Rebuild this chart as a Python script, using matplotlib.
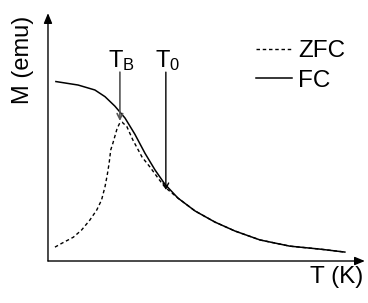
import matplotlib
matplotlib.use('Agg')
import matplotlib.pyplot as plt

plt.rcParams['font.family'] = ['Liberation Sans', 'DejaVu Sans']
plt.rcParams['mathtext.fontset'] = 'custom'
plt.rcParams['mathtext.rm'] = 'Liberation Sans'
plt.rcParams['mathtext.it'] = 'Liberation Sans'

# field cooled curve (arbitrary units)
fc_T = [2.5, 9.5, 14.8, 18.0, 21.1, 24.3, 27.4, 30.6, 33.8, 36.9, 41.0, 46.4,
        52.7, 59.0, 66.9, 76.3, 85.8, 93.7]
fc_M = [72.4, 71.0, 69.0, 66.3, 62.5, 57.7, 51.2, 43.5, 36.7, 31.0, 25.4, 20.2,
        15.7, 12.1, 8.5, 6.0, 4.8, 3.6]

# zero field cooled curve
zfc_T = [2.2, 4.3, 8.0, 10.6, 13.2, 15.4, 16.9, 18.0, 18.7, 19.3, 19.8, 20.5,
         21.8, 22.7, 23.4, 24.9, 26.8, 29.7, 32.2, 34.7, 36.9,
         41.0, 46.4, 52.7, 59.0, 66.9, 76.3, 85.8, 93.7]
zfc_M = [5.6, 7.1, 9.6, 12.5, 16.5, 20.6, 24.6, 30.0, 34.7, 39.5, 44.8, 47.6,
         53.4, 55.8, 56.0, 54.2, 48.8, 41.9, 37.9, 33.5, 29.8,
         25.4, 20.2, 15.7, 12.1, 8.5, 6.0, 4.8, 3.6]

# marked temperatures
T_B = 22.7
T_0 = 37.2

fig = plt.figure(figsize=(3.68, 3.03), dpi=100)
ax = fig.add_axes([0.1304, 0.1386, 0.861, 0.818])
ax.set_xlim(0, 100)
ax.set_ylim(0, 100)
for s in ax.spines.values():
    s.set_visible(False)
ax.set_xticks([])
ax.set_yticks([])

# axes with arrow heads
arr = dict(arrowstyle='-|>,head_length=0.6,head_width=0.25', color='black', lw=1.0,
           shrinkA=0, shrinkB=0)
ax.annotate('', xy=(1, 0), xytext=(0, 0), xycoords='axes fraction', arrowprops=arr)
ax.annotate('', xy=(0, 1), xytext=(0, 0), xycoords='axes fraction', arrowprops=arr)

ax.plot(zfc_T, zfc_M, color='black', lw=1.0, linestyle=(0, (2.5, 2)), label='ZFC')
ax.plot(fc_T, fc_M, color='black', lw=1.1, label='FC')

ax.annotate('', xy=(T_B, 56.5), xytext=(T_B, 76.2),
            arrowprops=dict(arrowstyle='->', color='#555555', lw=1.2, shrinkA=0, shrinkB=0))
ax.annotate('', xy=(T_0, 28.6), xytext=(T_0, 76.2),
            arrowprops=dict(arrowstyle='->', color='black', lw=1.0, shrinkA=0, shrinkB=0))
ax.text(T_B + 0.5, 78.2, r'$\mathrm{T_B}$', ha='center', va='baseline', fontsize=17)
ax.text(T_0 + 0.5, 78.2, r'$\mathrm{T_0}$', ha='center', va='baseline', fontsize=17)

ax.legend(loc='upper left', bbox_to_anchor=(0.655, 0.89), frameon=False, fontsize=17.5,
          handlelength=1.5, handletextpad=0.25, labelspacing=0.3, borderaxespad=0,
          borderpad=0)

fig.text(23 / 368, 1 - 60 / 303, 'M (emu)', rotation=90, ha='center', va='center',
         fontsize=17)
fig.text(337 / 368, 1 - 277 / 303, 'T (K)', ha='center', va='center', fontsize=17.5)

fig.savefig('out.png', dpi=100)
